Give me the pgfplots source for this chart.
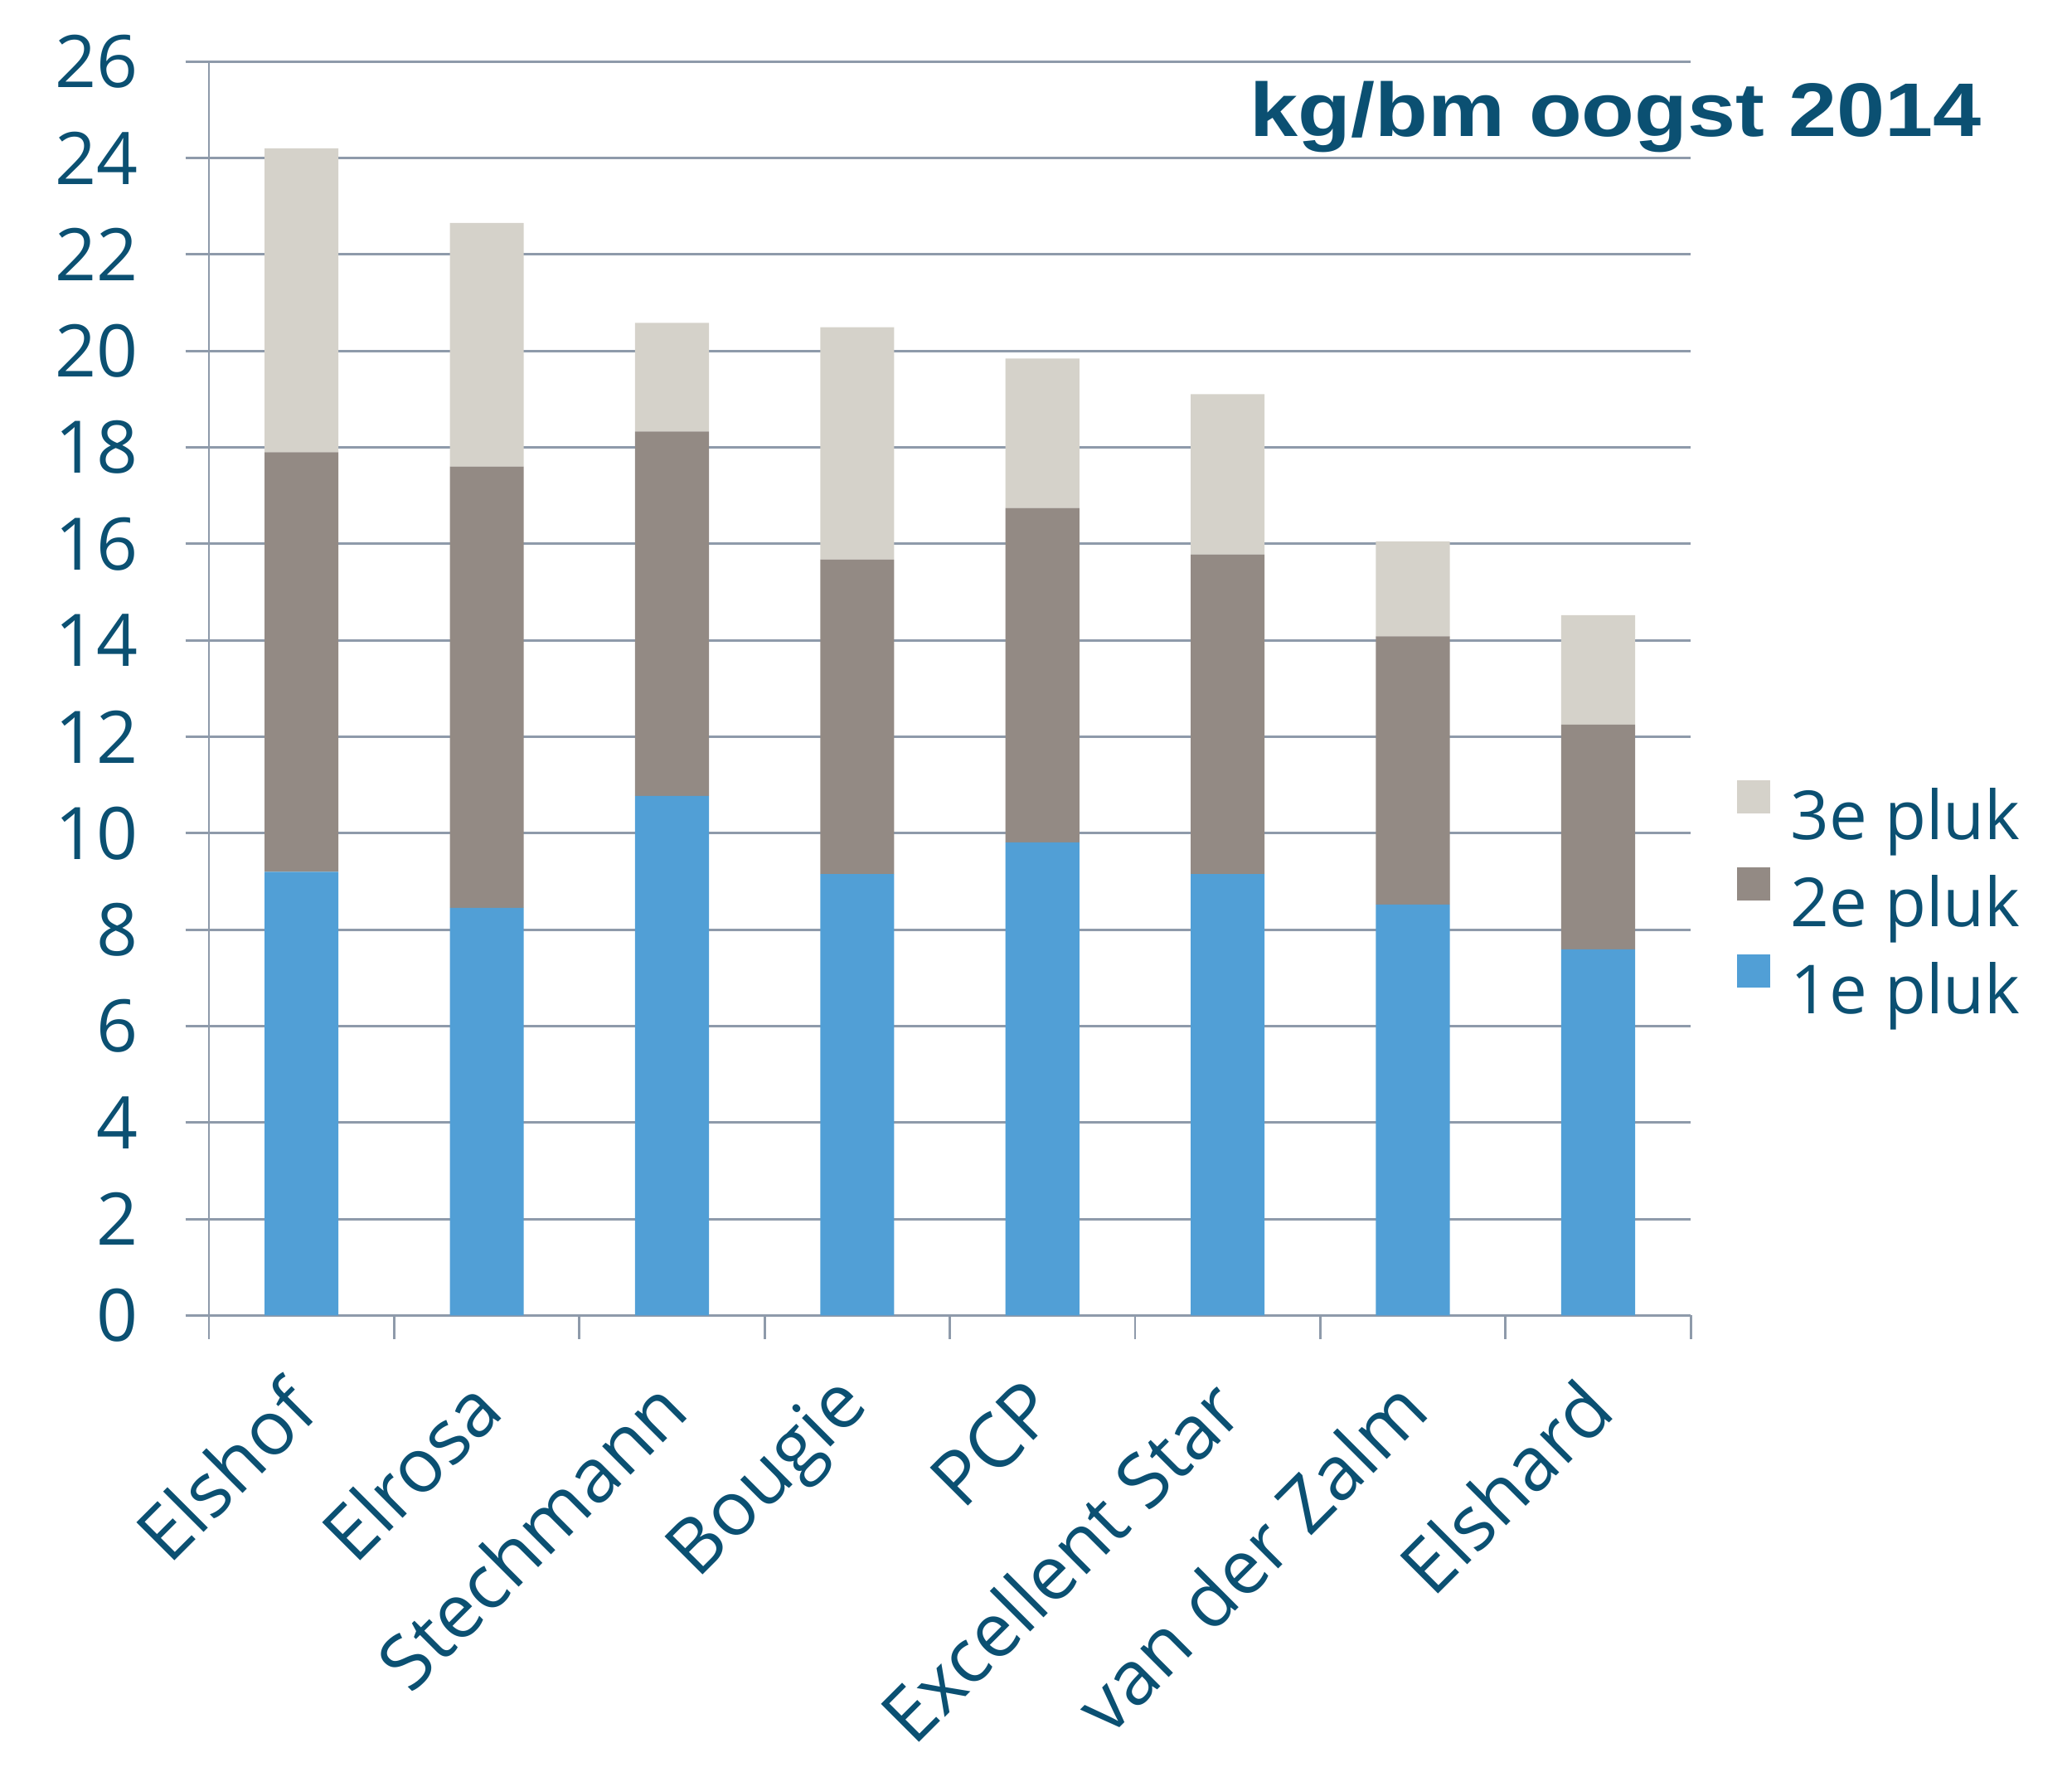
\documentclass[border=0pt]{standalone}
\usepackage{fontspec}
\setmainfont{Open Sans}
\newfontfamily\titlefont[FakeStretch=1.14]{Liberation Sans}
\usepackage{pgfplots}
\pgfplotsset{compat=1.18}
\definecolor{txt}{HTML}{0B5072}
\definecolor{gridc}{HTML}{8E9AAA}
\definecolor{c1}{HTML}{519FD6}
\definecolor{c2}{HTML}{938A84}
\definecolor{c3}{HTML}{D5D2CA}
\begin{document}
\begin{tikzpicture}
\useasboundingbox (-60.5pt,-132pt) rectangle (539.5pt,380.9pt);
\begin{axis}[
  at={(0,0)}, anchor=south west,
  scale only axis, width=429.1pt, height=363.1pt,
  ybar stacked, bar width=21.4pt,
  xmin=-0.5, xmax=7.5, ymin=0, ymax=26, ytick distance=2,
  xtick={-0.5,0.5,...,7.5}, xticklabels={},
  extra x ticks={0,1,2,3,4,5,6,7},
  extra x tick labels={Elshof,Elrosa,Stechmann,Bougie,PCP,Excellent Star,van der Zalm,Elshard},
  extra x tick style={tick style={draw=none}},
  axis lines*=left,
  axis line style={gridc, line width=0.7pt},
  tick align=outside, major tick length=6.8pt,
  tick style={gridc, line width=0.7pt},
  ymajorgrids, grid style={gridc, line width=0.7pt},
  /pgf/number format/assume math mode=true,
  yticklabel style={font=\fontsize{21}{25}\selectfont, text=txt, anchor=east, inner sep=0pt},
  yticklabel shift=13.6pt,
  xticklabel style={font=\fontsize{21.8}{26}\selectfont, text=txt, rotate=45, anchor=east, inner sep=0pt},
  xticklabel shift=16pt,
  reverse legend,
  legend image code/.code={\fill[#1] (0pt,2.6pt) rectangle (9.6pt,12.2pt);},
  legend style={at={(rel axis cs:1.031,0.3266)}, anchor=west, draw=none, fill=none,
    inner sep=0pt, row sep=3.0pt, column sep=5.8pt,
    font=\fontsize{19.6}{24}\selectfont, text=txt,
    nodes={inner sep=0pt, text height=15pt, text depth=5pt}},
]
\addplot[fill=c1, draw=none] coordinates {(0,9.2) (1,8.45) (2,10.77) (3,9.15) (4,9.81) (5,9.15) (6,8.52) (7,7.59)};
\addplot[fill=c2, draw=none] coordinates {(0,8.7) (1,9.15) (2,7.56) (3,6.52) (4,6.93) (5,6.63) (6,5.56) (7,4.66)};
\addplot[fill=c3, draw=none] coordinates {(0,6.3) (1,5.05) (2,2.25) (3,4.82) (4,3.1) (5,3.32) (6,1.97) (7,2.27)};
\legend{1e pluk, 2e pluk, 3e pluk}
\end{axis}
\node[anchor=base east, inner sep=0pt, text=txt, font=\titlefont\bfseries\fontsize{22}{26}\selectfont] at (513.5pt,341.5pt) {kg/bm oogst 2014};
\end{tikzpicture}
\end{document}
